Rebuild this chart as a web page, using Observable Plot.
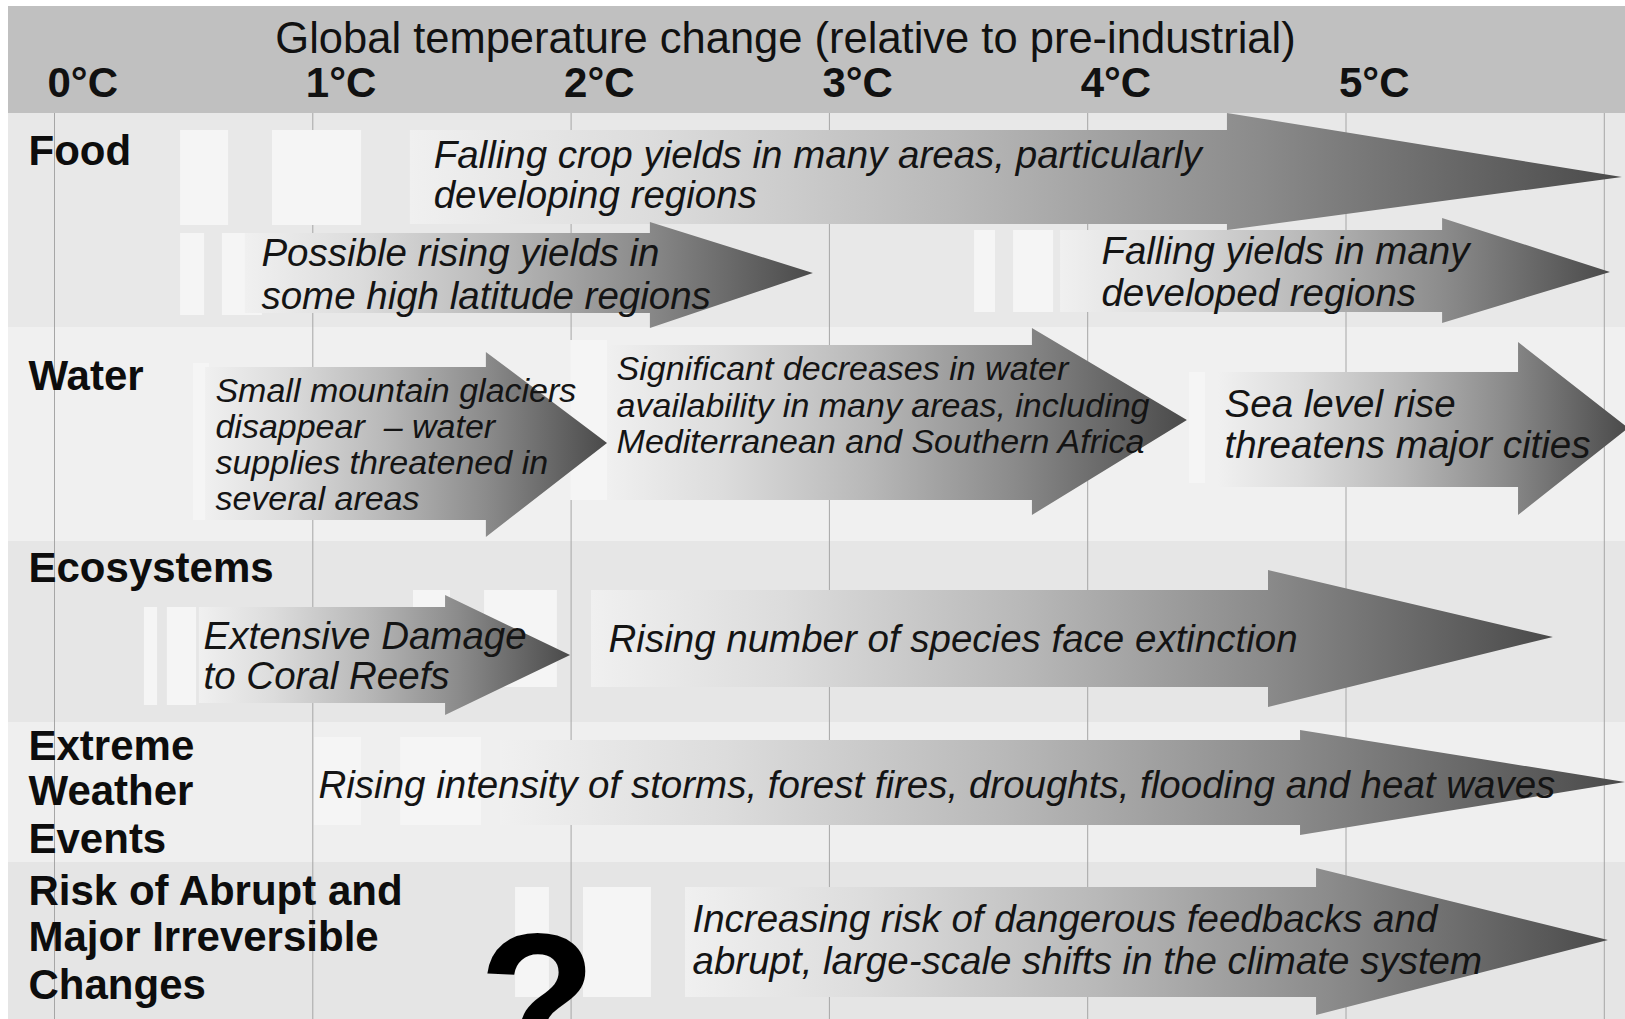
<!DOCTYPE html>
<html>
<head>
<meta charset="utf-8">
<script src="https://cdn.jsdelivr.net/npm/d3@7"></script>
<script src="https://cdn.jsdelivr.net/npm/@observablehq/plot@0.6"></script>
<style>
html, body { margin: 0; padding: 0; overflow: hidden; background: #ffffff; }
#chart svg { display: block; }
</style>
</head>
<body>
<div id="chart"></div>
<script>
// ---------------- data ----------------
const title = "Global temperature change (relative to pre-industrial)";
const tickTemps = [0, 1, 2, 3, 4, 5];
const tickLabels = ["0°C", "1°C", "2°C", "3°C", "4°C", "5°C"];
const gridTemps = [0, 1, 2, 3, 4, 5, 6];

const sectors = ["Food", "Water", "Ecosystems", "Extreme Weather Events", "Risk of Abrupt and Major Irreversible Changes"];
const sectorLabelLines = [
  ["Food"],
  ["Water"],
  ["Ecosystems"],
  ["Extreme", "Weather", "Events"],
  ["Risk of Abrupt and", "Major Irreversible", "Changes"]
];

// impacts (temperature where each arrow starts, where its head starts, where it points to)
const impactSector = [0, 0, 0, 1, 1, 1, 2, 2, 3, 4];
const impactStart = [1.378, 0.739, 3.895, 0.585, 2.141, 4.506, 0.561, 2.079, 1.727, 2.443];
const impactHead  = [4.541, 2.307, 5.374, 1.672, 3.786, 5.668, 1.514, 4.700, 4.824, 4.886];
const impactTip   = [6.070, 2.938, 6.024, 2.141, 4.386, 6.094, 1.998, 5.803, 6.082, 6.016];
const impactText = [
  ["Falling crop yields in many areas, particularly", "developing regions"],
  ["Possible rising yields in", "some high latitude regions"],
  ["Falling yields in many", "developed regions"],
  ["Small mountain glaciers", "disappear  – water", "supplies threatened in", "several areas"],
  ["Significant decreases in water", "availability in many areas, including", "Mediterranean and Southern Africa"],
  ["Sea level rise", "threatens major cities"],
  ["Extensive Damage", "to Coral Reefs"],
  ["Rising number of species face extinction"],
  ["Rising intensity of storms, forest fires, droughts, flooding and heat waves"],
  ["Increasing risk of dangerous feedbacks and", "abrupt, large-scale shifts in the climate system"]
];
const impactTextStart = [1.468, 0.801, 4.053, 0.623, 2.176, 4.530, 0.577, 2.145, 1.022, 2.470];

// faint highlight boxes (temperature extents)
const boxT1 = [0.488, 0.844, 0.488, 0.650, 3.562, 3.713, 0.538, 1.998, 4.394, 0.348, 0.437, 1.390, 1.665, 1.007, 1.340, 1.785, 2.048];
const boxT2 = [0.674, 1.189, 0.581, 0.805, 3.643, 3.868, 0.600, 2.141, 4.456, 0.399, 0.550, 1.533, 1.947, 1.189, 1.653, 1.916, 2.311];

const unknownMark = "?";

// ---------------- layout (vertical positions in chart units, styles) ----------------
const pxPerDeg = 258.3, zeroPx = 54, W = 1625, H = 1019;
const tLeft = (8 - zeroPx) / pxPerDeg;
const tRight = (W - zeroPx) / pxPerDeg;
const headerY = [6, 113];
const bandY = [[113, 327], [327, 541], [541, 722], [722, 862], [862, 1019]];
const bandFill = ["#e8e8e8", "#f0f0f0", "#e6e6e6", "#efefef", "#e5e5e5"];
const labelBaselines = [[164], [389], [581], [759, 804, 852], [904, 950, 998]];
const labelT = (28 - zeroPx) / pxPerDeg;
// shaftTop, shaftBottom, headTop, headBottom, tipY
const arrowY = [
  [130, 224, 113, 230, 177],
  [233, 313, 222, 328, 273],
  [230, 312, 218, 323, 272],
  [367, 520, 352, 537, 443],
  [345, 500, 328, 515, 420],
  [372, 487, 342, 515, 428],
  [607, 703, 595, 715, 655],
  [590, 687, 570, 707, 637],
  [740, 825, 730, 835, 782],
  [887, 997, 868, 1015, 940]
];
const textBaselines = [[167, 207], [265, 308], [263, 305], [401, 437, 473, 509], [379, 416, 452], [416, 457], [648, 688], [651], [797], [931, 973]];
const textSizes = [38.5, 38.5, 38.5, 34, 34, 38.5, 38.5, 38.5, 38.5, 38.5];
const boxY = [[130, 225], [130, 225], [233, 315], [233, 315], [230, 312], [230, 312], [363, 520], [340, 500], [372, 483], [607, 705], [607, 705], [590, 687], [590, 687], [737, 825], [737, 825], [887, 997], [887, 997]];
const FONT = "'Liberation Sans', Arial, Helvetica, sans-serif";
const gradStops = [[0, "#f0f0f0"], [0.2, "#dcdcdc"], [0.45, "#b8b8b8"], [0.7, "#8b8b8b"], [1, "#4a4a4a"]];

// ---------------- derived tables ----------------
const bands = [{y1: headerY[0], y2: headerY[1], fill: "#c0c0c0"}]
  .concat(bandY.map((b, i) => ({y1: b[0], y2: b[1], fill: bandFill[i], sector: sectors[i]})));

const boxes = boxT1.map((t1, i) => ({t1, t2: boxT2[i], y1: boxY[i][0], y2: boxY[i][1]}));

const arrowPts = [];
impactStart.forEach((s, i) => {
  const [st, sb, ht, hb, ty] = arrowY[i];
  arrowPts.push({id: i, t: s, top: st, bot: sb});
  arrowPts.push({id: i, t: impactHead[i], top: st, bot: sb});
  arrowPts.push({id: i, t: impactHead[i], top: ht, bot: hb});
  arrowPts.push({id: i, t: impactTip[i], top: ty, bot: ty});
});

const labelRows = [];
sectorLabelLines.forEach((lines, i) => lines.forEach((text, j) => labelRows.push({text, y: labelBaselines[i][j]})));

const impactRows = [];
impactText.forEach((lines, i) => lines.forEach((text, j) => impactRows.push({text, t: impactTextStart[i], y: textBaselines[i][j], size: textSizes[i]})));

const ticks = tickTemps.map((t, i) => ({t, label: tickLabels[i]}));

// ---------------- chart ----------------
const chart = Plot.plot({
  width: W,
  height: H,
  margin: 0,
  style: {background: "#ffffff"},
  x: {domain: [-zeroPx / pxPerDeg, tRight], range: [0, W], axis: null},
  y: {domain: [0, H], range: [0, H], axis: null},
  color: {type: "identity"},
  marks: [
    Plot.rect(bands, {x1: tLeft, x2: tRight, y1: "y1", y2: "y2", fill: "fill"}),
    Plot.ruleX(gridTemps, {x: d => d, y1: headerY[1], y2: H, stroke: "#a6a6a6", strokeWidth: 1}),
    Plot.rect(boxes, {x1: "t1", x2: "t2", y1: "y1", y2: "y2", fill: "#f5f5f5"}),
    Plot.area(arrowPts, {x1: "t", y1: "top", y2: "bot", z: "id", fill: "#8a8a8a", curve: "linear"}),
    Plot.text([title], {x: 2.83, y: 52, text: d => d, fontSize: 43.5, fontFamily: FONT, textAnchor: "middle", lineAnchor: "bottom", fill: "#111111"}),
    Plot.text(ticks, {x: "t", y: 96, dx: -7, text: "label", fontSize: 42, fontWeight: "bold", fontFamily: FONT, textAnchor: "start", lineAnchor: "bottom", fill: "#111111"}),
    Plot.text(labelRows, {x: labelT, y: "y", text: "text", fontSize: 42, fontWeight: "bold", fontFamily: FONT, textAnchor: "start", lineAnchor: "bottom", fill: "#0d0d0d"}),
    Plot.text(impactRows, {x: "t", y: "y", text: "text", fontSize: d => d.size, fontStyle: "italic", fontFamily: FONT, textAnchor: "start", lineAnchor: "bottom", fill: "#141414"}),
    Plot.text([unknownMark], {x: 1.870, y: 1067, text: d => d, fontSize: 193, fontWeight: "bold", fontFamily: FONT, textAnchor: "middle", lineAnchor: "bottom", fill: "#000000"})
  ]
});

document.getElementById("chart").appendChild(chart);

// gradient fill for the arrows (light at the start, dark at the tip)
const NS = "http://www.w3.org/2000/svg";
const defs = document.createElementNS(NS, "defs");
const lg = document.createElementNS(NS, "linearGradient");
lg.setAttribute("id", "arrowGrad");
lg.setAttribute("x1", "0"); lg.setAttribute("y1", "0");
lg.setAttribute("x2", "1"); lg.setAttribute("y2", "0");
for (const [o, c] of gradStops) {
  const s = document.createElementNS(NS, "stop");
  s.setAttribute("offset", String(o));
  s.setAttribute("stop-color", c);
  lg.appendChild(s);
}
defs.appendChild(lg);
chart.appendChild(defs);
d3.select(chart).selectAll('g[aria-label="area"] path')
  .attr("fill", "url(#arrowGrad) #8a8a8a")
  .style("fill", "url(#arrowGrad)");
</script>
</body>
</html>
